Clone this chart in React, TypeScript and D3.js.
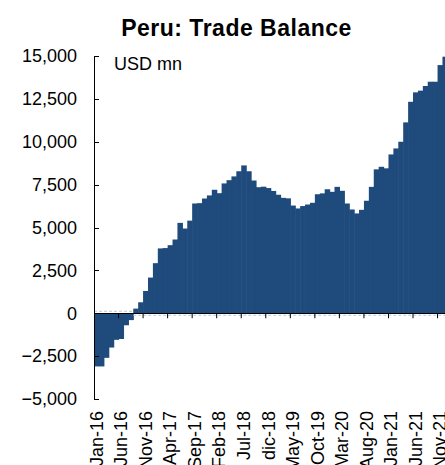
import React from "react";
import * as d3 from "d3";

const categories = [
  "Jan-16","Feb-16","Mar-16","Apr-16","May-16","Jun-16","Jul-16","Aug-16","Sep-16","Oct-16","Nov-16","Dec-16",
  "Jan-17","Feb-17","Mar-17","Apr-17","May-17","Jun-17","Jul-17","Aug-17","Sep-17","Oct-17","Nov-17","Dec-17",
  "Jan-18","Feb-18","Mar-18","Apr-18","May-18","Jun-18","Jul-18","Aug-18","Sep-18","Oct-18","Nov-18","dic-18",
  "Jan-19","Feb-19","Mar-19","Apr-19","May-19","Jun-19","Jul-19","Aug-19","Sep-19","Oct-19","Nov-19","Dec-19",
  "Jan-20","Feb-20","Mar-20","Apr-20","May-20","Jun-20","Jul-20","Aug-20","Sep-20","Oct-20","Nov-20","Dec-20",
  "Jan-21","Feb-21","Mar-21","Apr-21","May-21","Jun-21","Jul-21","Aug-21","Sep-21","Oct-21","Nov-21","Dec-21",
];

const tradeBalance = [
  -3100, -3100, -2600, -2000, -1550, -1500, -700, -400, 270, 640, 1300, 2080,
  2920, 3780, 3800, 3970, 4300, 5270, 4940, 5400, 6400, 6420, 6690, 6870,
  7200, 7000, 7570, 7760, 7980, 8280, 8620, 8280, 7740, 7350, 7380, 7300,
  7130, 6910, 6730, 6700, 6280, 6110, 6250, 6340, 6440, 6940, 6990, 7230,
  7080, 7370, 7140, 6400, 6050, 5820, 6030, 6560, 7370, 8390, 8540, 8450,
  9260, 9610, 10000, 11130, 12330, 12880, 12980, 13250, 13500, 13500, 14470, 14960,
];

const xTickLabels = [
  "Jan-16","Jun-16","Nov-16","Apr-17","Sep-17","Feb-18","Jul-18","dic-18",
  "May-19","Oct-19","Mar-20","Aug-20","Jan-21","Jun-21","Nov-21",
];

const yTicks = [-5000, -2500, 0, 2500, 5000, 7500, 10000, 12500, 15000];

const W = 445;
const H = 465;
const FONT = "'Liberation Sans', Arial, sans-serif";
const BAR = "#1F4A7C";

export default function App() {
  const left = 94;
  const step = 4.908;
  const x = d3
    .scaleBand<string>()
    .domain(categories)
    .range([left, left + categories.length * step])
    .padding(0);
  const y = d3.scaleLinear().domain([-5000, 15000]).range([399, 56]);
  const fmt = d3.format(",");
  const y0 = y(0);
  const bw = x.bandwidth();

  const tickBoundaries = categories
    .map((c, i) => ({ c, i }))
    .filter((d) => d.i % 5 === 0 && d.i > 0)
    .map((d) => x(d.c) as number);

  return (
    <svg
      width={W}
      height={H}
      style={{ position: "absolute", left: 0, top: 0, background: "#fff" }}
      fontFamily={FONT}
    >
      <text x={236.5} y={36} textAnchor="middle" fontSize={23} letterSpacing={0.5} fontWeight="bold" fill="#000">
        Peru: Trade Balance
      </text>
      <text x={114} y={69.5} fontSize={18} fill="#000">
        USD mn
      </text>

      {/* bars */}
      <g>
        {tradeBalance.map((v, i) => {
          const xv = x(categories[i]) as number;
          const yv = y(v);
          return (
            <rect
              key={i}
              x={xv}
              y={Math.min(yv, y0)}
              width={bw + 0.6}
              height={Math.abs(yv - y0)}
              fill={BAR}
            />
          );
        })}
      </g>

      {/* faint edge artifacts near zero */}
      <line x1={left} x2={x("Sep-16") as number} y1={y0 - 2} y2={y0 - 2} stroke="#b9c7d8" strokeDasharray="3 2" />
      <line x1={x("Sep-16") as number} x2={W} y1={y0 + 2} y2={y0 + 2} stroke="#b9c7d8" strokeDasharray="3 2" />

      {/* y axis */}
      <line x1={left + 0.5} x2={left + 0.5} y1={y(15000)} y2={y(-5000)} stroke="#000" strokeWidth={1} />
      {yTicks.map((t) => (
        <g key={t}>
          <line x1={left} x2={left + 5} y1={Math.round(y(t)) + 0.5} y2={Math.round(y(t)) + 0.5} stroke="#000" />
          <text x={77} y={y(t)} dy="0.35em" textAnchor="end" fontSize={18} fill="#000">
            {fmt(t)}
          </text>
        </g>
      ))}

      {/* x axis at zero */}
      <line x1={left} x2={W} y1={Math.round(y0) + 0.5} y2={Math.round(y0) + 0.5} stroke="#000" strokeWidth={1.2} />
      {tickBoundaries.map((tx, i) => (
        <line key={i} x1={tx} x2={tx} y1={y0} y2={y0 + 5} stroke="#000" />
      ))}
      {xTickLabels.map((lab, i) => {
        const idx = i * 5;
        const cx = (x(categories[idx]) as number) + bw / 2;
        return (
          <text
            key={lab}
            transform={`translate(${cx},411) rotate(-90)`}
            textAnchor="end"
            dy="0.35em"
            fontSize={18}
            fill="#000"
          >
            {lab}
          </text>
        );
      })}
    </svg>
  );
}
